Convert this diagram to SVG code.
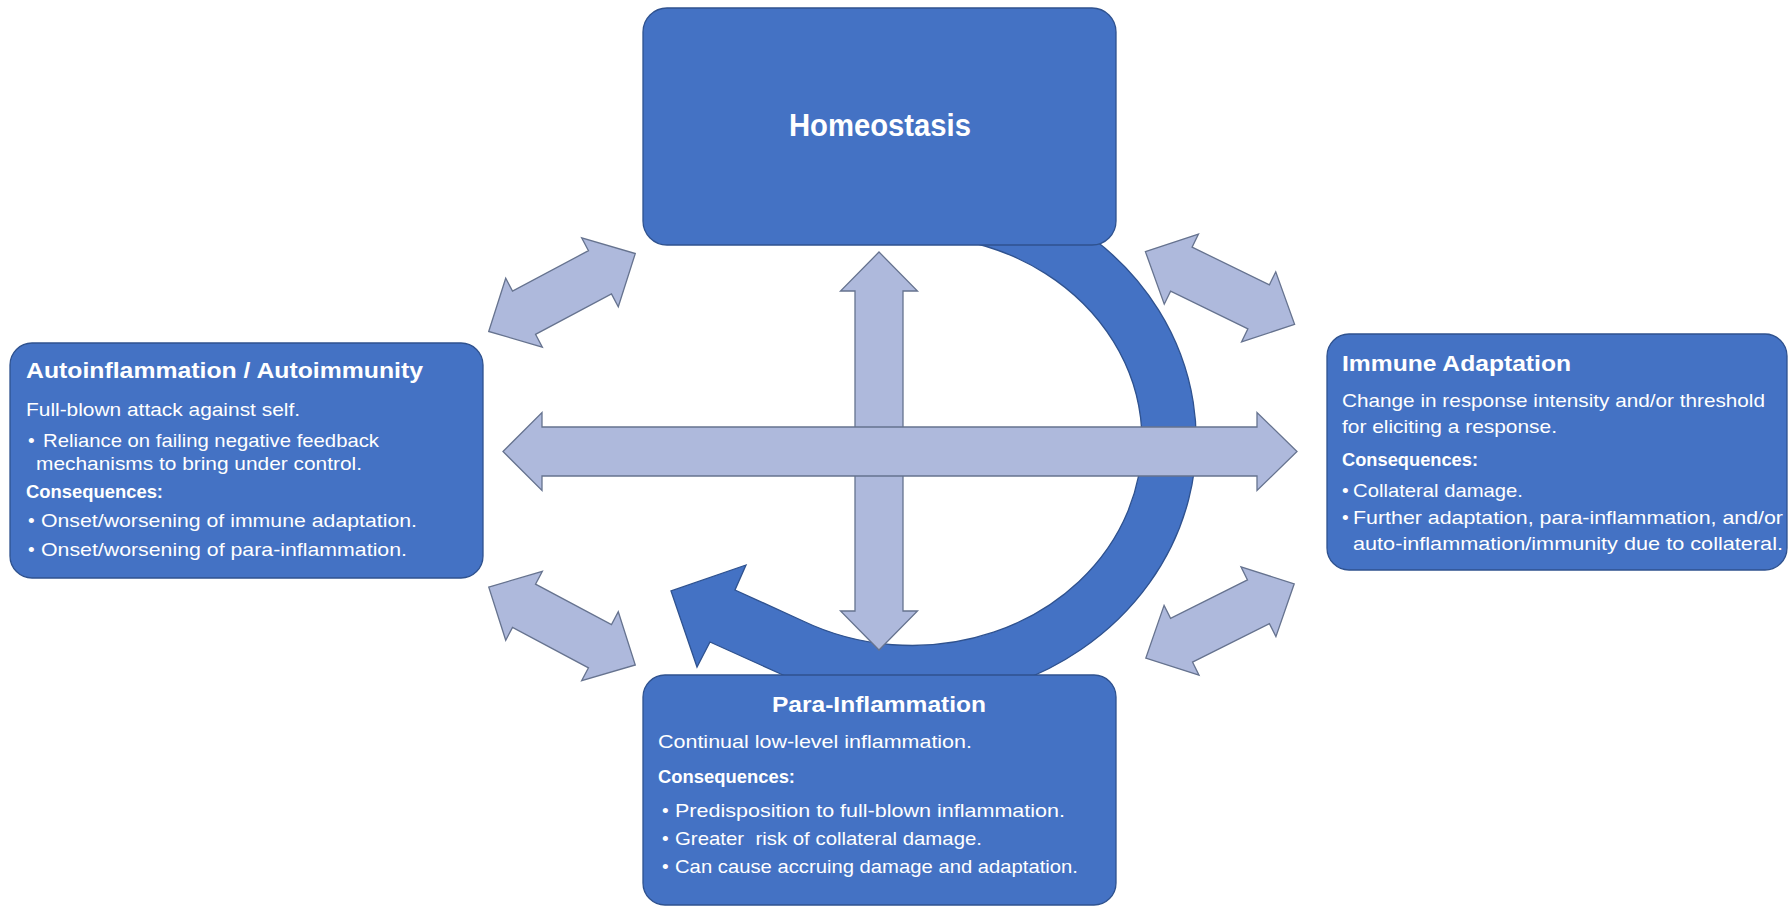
<svg xmlns="http://www.w3.org/2000/svg" xmlns:xlink="http://www.w3.org/1999/xlink" width="1789" height="907" viewBox="0 0 1789 907">
  <style>
    .box { fill: #4472C4; stroke: #2F528F; stroke-width: 1.3; }
    .loop { fill: #4472C4; stroke: #2F528F; stroke-width: 1.3; stroke-linejoin: miter; }
    .link { fill: #AEB9DC; stroke: #66738F; stroke-width: 1.3; stroke-linejoin: miter; }
    text { font-family: "Liberation Sans", Arial, sans-serif; fill: #FFFFFF; }
    .big { font-size: 31px; font-weight: bold; }
    .head { font-size: 22px; font-weight: bold; }
    .sub { font-size: 19px; font-weight: bold; }
    .body { font-size: 19px; }
  </style>
  <defs>
    <!-- double-headed block arrow, 166 long, centred on the origin -->
    <path id="dbl" d="M -83,0 L -43,-39 L -43,-24.5 L 43,-24.5 L 43,-39 L 83,0 L 43,39 L 43,24.5 L -43,24.5 L -43,39 Z"/>
  </defs>

  <rect width="1789" height="907" fill="#FFFFFF"/>

  <g id="connectors">
    <!-- cycle arrow running from Homeostasis round the right side and back up-left -->
    <path class="loop" d="M 1095,240 A 287 262 0 0 1 783,675 L 710,642 L 697,667 L 671,591 L 746,565 L 735,590 L 803,621 A 230 205 0 1 0 960,240 Z"/>
    <!-- vertical double arrow: Homeostasis <-> Para-Inflammation -->
    <path class="link" d="M 879,252 L 917.5,291 L 903,291 L 903,611 L 917.5,611 L 879,650 L 840.5,611 L 855,611 L 855,291 L 840.5,291 Z"/>
    <!-- horizontal double arrow: Autoinflammation <-> Immune Adaptation -->
    <path class="link" d="M 503,451.5 L 542,412.5 L 542,427 L 1257,427 L 1257,412.5 L 1297,451.5 L 1257,490.5 L 1257,476 L 542,476 L 542,490.5 Z"/>
    <!-- diagonal double arrows between neighbouring boxes -->
    <use class="link" xlink:href="#dbl" href="#dbl" transform="translate(562,292.5) rotate(-28)"/>
    <use class="link" xlink:href="#dbl" href="#dbl" transform="translate(562,626) rotate(28)"/>
    <use class="link" xlink:href="#dbl" href="#dbl" transform="translate(1220,288) rotate(26)"/>
    <use class="link" xlink:href="#dbl" href="#dbl" transform="translate(1220,621) rotate(-26.6)"/>
  </g>

  <g id="homeostasis">
    <rect class="box" x="643" y="8" width="473" height="237" rx="24" ry="24"/>
    <text class="big" x="880" y="136" text-anchor="middle" textLength="182" lengthAdjust="spacingAndGlyphs">Homeostasis</text>
  </g>

  <g id="autoinflammation">
    <rect class="box" x="10" y="343" width="473" height="235" rx="22" ry="22"/>
    <text class="head" x="26" y="378" textLength="397" lengthAdjust="spacingAndGlyphs">Autoinflammation / Autoimmunity</text>
    <text class="body" x="26" y="416" textLength="274" lengthAdjust="spacingAndGlyphs">Full-blown attack against self.</text>
    <text class="body" x="28" y="447">•</text>
    <text class="body" x="43" y="447" textLength="336" lengthAdjust="spacingAndGlyphs">Reliance on failing negative feedback</text>
    <text class="body" x="36" y="470" textLength="326" lengthAdjust="spacingAndGlyphs">mechanisms to bring under control.</text>
    <text class="sub" x="26" y="498" textLength="137" lengthAdjust="spacingAndGlyphs">Consequences:</text>
    <text class="body" x="28" y="527">•</text>
    <text class="body" x="41" y="527" textLength="376" lengthAdjust="spacingAndGlyphs">Onset/worsening of immune adaptation.</text>
    <text class="body" x="28" y="556">•</text>
    <text class="body" x="41" y="556" textLength="366" lengthAdjust="spacingAndGlyphs">Onset/worsening of para-inflammation.</text>
  </g>

  <g id="immune-adaptation">
    <rect class="box" x="1327" y="334" width="460" height="236" rx="22" ry="22"/>
    <text class="head" x="1342" y="371" textLength="229" lengthAdjust="spacingAndGlyphs">Immune Adaptation</text>
    <text class="body" x="1342" y="407" textLength="423" lengthAdjust="spacingAndGlyphs">Change in response intensity and/or threshold</text>
    <text class="body" x="1342" y="433" textLength="215" lengthAdjust="spacingAndGlyphs">for eliciting a response.</text>
    <text class="sub" x="1342" y="466" textLength="136" lengthAdjust="spacingAndGlyphs">Consequences:</text>
    <text class="body" x="1342" y="497">•</text>
    <text class="body" x="1353" y="497" textLength="170" lengthAdjust="spacingAndGlyphs">Collateral damage.</text>
    <text class="body" x="1342" y="524">•</text>
    <text class="body" x="1353" y="524" textLength="430" lengthAdjust="spacingAndGlyphs">Further adaptation, para-inflammation, and/or</text>
    <text class="body" x="1353" y="550" textLength="430" lengthAdjust="spacingAndGlyphs">auto-inflammation/immunity due to collateral.</text>
  </g>

  <g id="para-inflammation">
    <rect class="box" x="643" y="675" width="473" height="230" rx="22" ry="22"/>
    <text class="head" x="879" y="712" text-anchor="middle" textLength="214" lengthAdjust="spacingAndGlyphs">Para-Inflammation</text>
    <text class="body" x="658" y="748" textLength="314" lengthAdjust="spacingAndGlyphs">Continual low-level inflammation.</text>
    <text class="sub" x="658" y="783" textLength="137" lengthAdjust="spacingAndGlyphs">Consequences:</text>
    <text class="body" x="662" y="817">•</text>
    <text class="body" x="675" y="817" textLength="390" lengthAdjust="spacingAndGlyphs">Predisposition to full-blown inflammation.</text>
    <text class="body" x="662" y="845">•</text>
    <text class="body" x="675" y="845" xml:space="preserve" textLength="307" lengthAdjust="spacingAndGlyphs">Greater  risk of collateral damage.</text>
    <text class="body" x="662" y="873">•</text>
    <text class="body" x="675" y="873" textLength="403" lengthAdjust="spacingAndGlyphs">Can cause accruing damage and adaptation.</text>
  </g>
</svg>
